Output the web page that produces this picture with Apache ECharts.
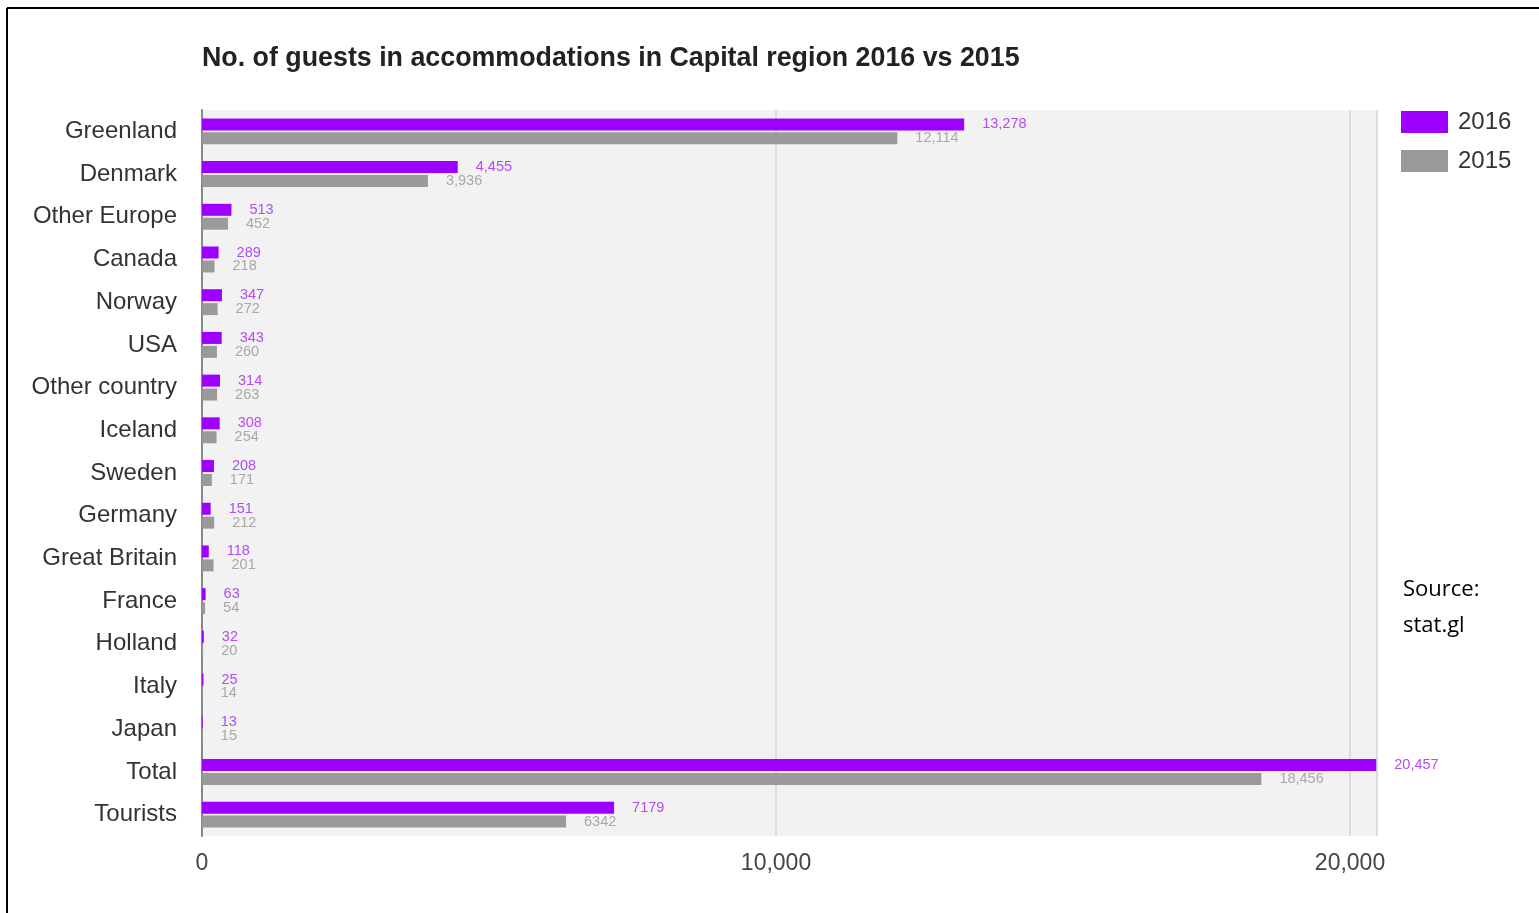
<!DOCTYPE html>
<html>
<head>
<meta charset="utf-8">
<script src="https://cdn.jsdelivr.net/npm/echarts@6/dist/echarts.min.js"></script>
<style>
html,body{margin:0;padding:0;background:#fff;}
#main{width:1539px;height:913px;}
</style>
</head>
<body>
<div id="main"></div>
<script>
// 数据
var categories = ['Greenland','Denmark','Other Europe','Canada','Norway','USA','Other country','Iceland','Sweden','Germany','Great Britain','France','Holland','Italy','Japan','Total','Tourists'];
var values2016 = [13278,4455,513,289,347,343,314,308,208,151,118,63,32,25,13,20457,7179];
var values2015 = [12114,3936,452,218,272,260,263,254,171,212,201,54,20,14,15,18456,6342];
var xTicks = [0,10000,20000];

function fmt(v, idx){
    // Tourists 那一行原图没有千分位
    if (categories[idx] === 'Tourists') return String(v);
    return v.toLocaleString('en-US');
}

var FONT = 'Liberation Sans';
var dom = document.getElementById("main");
var myChart = echarts.init(dom);
var option = {
    animation:false,
    backgroundColor:'#fff',
    title: {
        text:'No. of guests in accommodations in Capital region 2016 vs 2015',
        left:197, top:40,
        textStyle:{fontFamily:FONT,fontSize:26.8,fontWeight:'bold',color:'#222'}
    },
    legend: {
        orient:'vertical',
        left:1396, top:105,
        itemWidth:47, itemHeight:22, itemGap:15,
        icon:'rect',
        textStyle:{fontFamily:FONT,fontSize:24,color:'#333',padding:[0,0,0,5]},
        data:['2016','2015']
    },
    grid: {
        left:202, right:162, top:110, bottom:77,
        show:true, backgroundColor:'#f2f2f2', borderWidth:0
    },
    xAxis: {
        type:'value',
        min:0, max:20470,
        interval:10000,
        axisLine:{show:false},
        axisTick:{show:false},
        splitLine:{lineStyle:{color:'#dcdcdc',width:2}},
        axisLabel:{
            fontFamily:FONT,fontSize:23,color:'#444',margin:16,
            customValues:xTicks,
            formatter:function(v){ return v.toLocaleString('en-US'); }
        }
    },
    yAxis: {
        type:'category',
        inverse:true,
        data:categories,
        axisLine:{lineStyle:{color:'#888',width:2}},
        axisTick:{show:false},
        axisLabel:{fontFamily:FONT,fontSize:24,color:'#333',margin:25}
    },
    series: [
        {
            name:'2016', type:'bar',
            data:values2016,
            barWidth:12, barGap:'16%',
            itemStyle:{color:'#9e00ff'},
            label:{
                show:true, position:'right', distance:18,
                fontFamily:FONT, fontSize:14.5, color:'#b44cf5',
                formatter:function(p){ return fmt(p.value, p.dataIndex); }
            }
        },
        {
            name:'2015', type:'bar',
            data:values2015,
            barWidth:12,
            itemStyle:{color:'#9a9a9a'},
            label:{
                show:true, position:'right', distance:18,
                fontFamily:FONT, fontSize:14.5, color:'#a8a8a8',
                formatter:function(p){ return fmt(p.value, p.dataIndex); }
            }
        }
    ],
    graphic: [
        {type:'line', shape:{x1:7,y1:8,x2:1539,y2:8}, style:{stroke:'#000',lineWidth:2}},
        {type:'line', shape:{x1:7,y1:8,x2:7,y2:913}, style:{stroke:'#000',lineWidth:2}},
        {type:'text', left:1403, top:572, style:{text:'Source:\nstat.gl', font:'22px "Open Sans"', fill:'#000', lineHeight:36}}
    ]
};
if (option && typeof option === "object") {
    myChart.setOption(option, true);
}
</script>
</body>
</html>
